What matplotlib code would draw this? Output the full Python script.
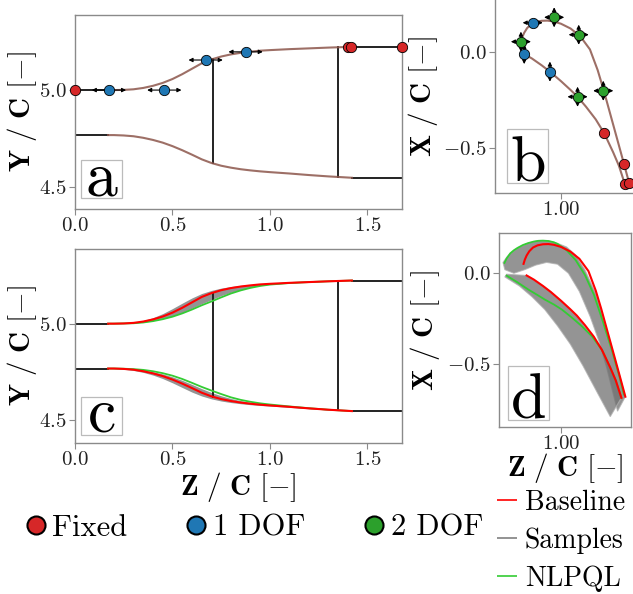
import matplotlib
matplotlib.use("Agg")
import matplotlib.pyplot as plt
import numpy as np
from matplotlib.lines import Line2D
from matplotlib.patches import Rectangle, Polygon
from matplotlib.ticker import FuncFormatter

plt.rcParams['font.family'] = 'serif'
plt.rcParams['font.serif'] = ['cmr10']
plt.rcParams['mathtext.fontset'] = 'cm'
plt.rcParams['axes.formatter.use_mathtext'] = True
plt.rcParams['axes.unicode_minus'] = False

# ---- meridional channel (Z / C vs Y / C) ----
inlet_z = [0.0, 0.17]
outlet_z = [1.42, 1.68]
upper_inlet_y = 5.0
lower_inlet_y = 4.768
upper_outlet_y = 5.223
lower_outlet_y = 4.548
blade_edges_z = [0.708, 1.35]

wall_z = [0.17, 0.20, 0.25, 0.30, 0.35, 0.40, 0.45, 0.50, 0.55, 0.60, 0.65,
          0.70, 0.75, 0.80, 0.85, 0.90, 0.95, 1.00, 1.10, 1.20, 1.30, 1.42]
base_upper = [5.000, 5.000, 5.001, 5.004, 5.011, 5.022, 5.037, 5.057, 5.082, 5.110, 5.138,
              5.158, 5.173, 5.184, 5.192, 5.198, 5.203, 5.206, 5.211, 5.215, 5.219, 5.223]
base_lower = [4.768, 4.768, 4.766, 4.762, 4.754, 4.743, 4.729, 4.711, 4.690, 4.667, 4.643,
              4.624, 4.610, 4.600, 4.592, 4.586, 4.581, 4.577, 4.570, 4.562, 4.555, 4.548]
nlpql_upper = [5.000, 5.000, 5.001, 5.002, 5.006, 5.013, 5.023, 5.036, 5.053, 5.073, 5.095,
               5.115, 5.136, 5.156, 5.172, 5.185, 5.195, 5.202, 5.210, 5.215, 5.219, 5.223]
nlpql_lower = [4.768, 4.768, 4.767, 4.765, 4.761, 4.754, 4.744, 4.731, 4.714, 4.694, 4.673,
               4.654, 4.636, 4.619, 4.606, 4.596, 4.588, 4.582, 4.572, 4.563, 4.555, 4.548]
samples_upper_hi = [5.000, 5.000, 5.002, 5.007, 5.016, 5.031, 5.052, 5.078, 5.106, 5.133, 5.156,
                    5.172, 5.184, 5.192, 5.198, 5.202, 5.206, 5.208, 5.212, 5.216, 5.219, 5.223]
samples_upper_lo = [5.000, 5.000, 5.001, 5.003, 5.007, 5.015, 5.026, 5.040, 5.058, 5.080, 5.103,
                    5.124, 5.145, 5.162, 5.176, 5.188, 5.197, 5.203, 5.210, 5.215, 5.219, 5.223]
samples_lower_hi = [4.768, 4.768, 4.767, 4.764, 4.759, 4.751, 4.740, 4.725, 4.707, 4.686, 4.664,
                    4.644, 4.627, 4.613, 4.602, 4.593, 4.586, 4.580, 4.571, 4.562, 4.555, 4.548]
samples_lower_lo = [4.768, 4.767, 4.764, 4.758, 4.748, 4.734, 4.716, 4.694, 4.670, 4.646, 4.626,
                    4.611, 4.600, 4.592, 4.586, 4.581, 4.577, 4.574, 4.567, 4.560, 4.554, 4.548]

# control points on the shroud
fixed_a_z = [0.0, 1.402, 1.414, 1.675]
fixed_a_y = [5.0, 5.223, 5.223, 5.223]
dof1_a_z = [0.174, 0.458, 0.67, 0.875]
dof1_a_y = [5.0, 5.0, 5.155, 5.197]

# ---- blade profile (Z / C vs X / C) ----
suction_z = [0.793, 0.80, 0.81, 0.825, 0.845, 0.87, 0.90, 0.93, 0.96, 1.00, 1.05, 1.10,
             1.15, 1.19, 1.22, 1.26, 1.30, 1.326, 1.353]
suction_x = [0.052, 0.075, 0.098, 0.122, 0.142, 0.154, 0.160, 0.161, 0.157, 0.145, 0.120, 0.080,
             0.012, -0.095, -0.195, -0.340, -0.485, -0.580, -0.680]
pressure_z = [0.810, 0.85, 0.90, 0.943, 1.00, 1.05, 1.086, 1.13, 1.18, 1.224, 1.27, 1.30, 1.331]
pressure_x = [-0.012, -0.035, -0.070, -0.103, -0.152, -0.198, -0.233, -0.285, -0.350, -0.422,
              -0.520, -0.590, -0.686]

fixed_b_z = [1.224, 1.326, 1.331, 1.353]
fixed_b_x = [-0.422, -0.582, -0.686, -0.680]
dof1_b_z = [0.854, 0.810, 0.943]
dof1_b_x = [0.150, -0.012, -0.103]
dof1_b_dir = ['h', 'v', 'v']
dof2_b_z = [0.793, 0.965, 1.092, 1.219, 1.086]
dof2_b_x = [0.052, 0.178, 0.088, -0.202, -0.233]

nlpql_suction_z = [0.688, 0.70, 0.72, 0.74, 0.76, 0.79, 0.82, 0.85, 0.875, 0.90, 0.93, 0.96, 0.98,
                   1.03, 1.08, 1.13, 1.18, 1.23, 1.28, 1.32, 1.345]
nlpql_suction_x = [0.057, 0.082, 0.110, 0.127, 0.140, 0.156, 0.167, 0.175, 0.179, 0.180, 0.178,
                   0.171, 0.162, 0.127, 0.072, -0.008, -0.118, -0.268, -0.428, -0.568, -0.668]
nlpql_pressure_z = [0.70, 0.76, 0.82, 0.87, 0.912, 0.96, 1.004, 1.06, 1.114, 1.169, 1.224,
                    1.27, 1.30, 1.331]
nlpql_pressure_x = [-0.013, -0.050, -0.090, -0.120, -0.146, -0.172, -0.200, -0.245, -0.292,
                    -0.347, -0.422, -0.520, -0.590, -0.686]

# envelopes of the sampled profiles
samp_suc_outer_z = [0.68, 0.70, 0.72, 0.76, 0.82, 0.875, 0.93, 0.98, 1.03, 1.08, 1.13, 1.19,
                    1.22, 1.26, 1.30, 1.326, 1.353]
samp_suc_outer_x = [0.060, 0.088, 0.110, 0.140, 0.167, 0.180, 0.178, 0.165, 0.145, 0.100, 0.020,
                    -0.110, -0.200, -0.344, -0.488, -0.582, -0.680]
samp_suc_inner_z = [1.31, 1.28, 1.25, 1.21, 1.16, 1.10, 1.04, 0.98, 0.92, 0.86, 0.80, 0.74, 0.69]
samp_suc_inner_x = [-0.760, -0.640, -0.520, -0.380, -0.240, -0.100, 0.000, 0.050, 0.060, 0.045,
                    0.020, 0.000, 0.020]
samp_pre_upper_z = [0.70, 0.81, 0.90, 0.943, 1.00, 1.086, 1.15, 1.224, 1.27, 1.30, 1.331]
samp_pre_upper_x = [-0.005, -0.012, -0.070, -0.103, -0.152, -0.233, -0.320, -0.422, -0.520,
                    -0.590, -0.686]
samp_pre_lower_z = [1.27, 1.20, 1.12, 1.05, 0.98, 0.91, 0.84, 0.77, 0.69]
samp_pre_lower_x = [-0.790, -0.660, -0.510, -0.390, -0.290, -0.200, -0.130, -0.070, -0.020]

point_labels = ['Fixed', '1 DOF', '2 DOF']
line_labels = ['Baseline', 'Samples', 'NLPQL']

RED = '#d62728'
BLUE = '#1f77b4'
GREEN = '#2ca02c'
BROWN = '#8c564b'
SPINE = '#8a8a8a'
SAMPLE_GREY = '#707070'
LINE_COLORS = ['#ff0000', '#808080', '#33cc33']

W, H = 633, 594
fig = plt.figure(figsize=(W / 100, H / 100), dpi=100)


def add_axes_px(left, top, right, bottom):
    return fig.add_axes([left / W, 1 - bottom / H, (right - left) / W, (bottom - top) / H])


def style_axes(ax, xticks, yticks, xfmt, yfmt):
    for s in ax.spines.values():
        s.set_color(SPINE)
        s.set_linewidth(1.0)
    ax.set_xticks(xticks)
    ax.set_yticks(yticks)
    ax.xaxis.set_major_formatter(FuncFormatter(lambda v, p: '$' + xfmt % v + '$'))
    ax.yaxis.set_major_formatter(FuncFormatter(lambda v, p: '$' + yfmt % v + '$'))
    ax.tick_params(direction='out', length=4, width=0.8, color=SPINE,
                   labelsize=15, labelcolor='#222222', pad=2)


def panel_tag(letter, left, top, right, bottom, base_off):
    fig.add_artist(Rectangle((left / W, 1 - bottom / H), (right - left) / W, (bottom - top) / H,
                             transform=fig.transFigure, fill=False, ec='#bbbbbb', lw=0.9))
    fig.text((left + right) / 2 / W, 1 - (bottom - base_off) / H, letter,
             fontsize=46, ha='center', va='baseline')


def arrows(ax, zs, ys, dirs, length):
    for z, y, d in zip(zs, ys, dirs):
        vecs = []
        if 'h' in d:
            vecs += [(length, 0), (-length, 0)]
        if 'v' in d:
            vecs += [(0, length), (0, -length)]
        for dx, dy in vecs:
            ax.annotate('', xy=(z + dx, y + dy), xytext=(z, y),
                        arrowprops=dict(arrowstyle='-|>', color='k', lw=0.8,
                                        mutation_scale=6, shrinkA=0, shrinkB=0),
                        zorder=4)


def channel_walls(ax):
    ax.plot(inlet_z, [upper_inlet_y] * 2, color='#222222', lw=1.4)
    ax.plot(inlet_z, [lower_inlet_y] * 2, color='#222222', lw=1.4)
    ax.plot(outlet_z, [upper_outlet_y] * 2, color='#222222', lw=1.4)
    ax.plot(outlet_z, [lower_outlet_y] * 2, color='#222222', lw=1.4)
    for z in blade_edges_z:
        ax.plot([z, z], [np.interp(z, wall_z, base_lower), np.interp(z, wall_z, base_upper)],
                color='#222222', lw=1.4)


# ---- a: parametrised channel ----
ax_a = add_axes_px(75, 15, 402, 209)
channel_walls(ax_a)
ax_a.plot(wall_z, base_upper, color=BROWN, lw=1.5, alpha=0.85)
ax_a.plot(wall_z, base_lower, color=BROWN, lw=1.5, alpha=0.85)
arrows(ax_a, dof1_a_z, dof1_a_y, ['h'] * len(dof1_a_z), 0.088)
ax_a.scatter(fixed_a_z, fixed_a_y, s=55, c=RED, edgecolors='k', linewidths=0.6, zorder=5, clip_on=False)
ax_a.scatter(dof1_a_z, dof1_a_y, s=55, c=BLUE, edgecolors='k', linewidths=0.6, zorder=5)
ax_a.set_xlim(0, 1.677)
ax_a.set_ylim(4.387, 5.387)
style_axes(ax_a, [0, 0.5, 1.0, 1.5], [4.5, 5.0], '%.1f', '%.1f')

# ---- b: parametrised blade profile ----
ax_b = add_axes_px(495, -2, 640, 193)
ax_b.plot(suction_z, suction_x, color=BROWN, lw=1.5, alpha=0.85)
ax_b.plot(pressure_z, pressure_x, color=BROWN, lw=1.5, alpha=0.85)
arrows(ax_b, dof1_b_z, dof1_b_x, dof1_b_dir, 0.052)
arrows(ax_b, dof2_b_z, dof2_b_x, ['hv'] * len(dof2_b_z), 0.052)
ax_b.scatter(fixed_b_z, fixed_b_x, s=55, c=RED, edgecolors='k', linewidths=0.6, zorder=5)
ax_b.scatter(dof1_b_z, dof1_b_x, s=55, c=BLUE, edgecolors='k', linewidths=0.6, zorder=5)
ax_b.scatter(dof2_b_z, dof2_b_x, s=55, c=GREEN, edgecolors='k', linewidths=0.6, zorder=5)
ax_b.set_xlim(0.659, 1.409)
ax_b.set_ylim(-0.731, 0.278)
style_axes(ax_b, [1.0], [-0.5, 0.0], '%.2f', '%.1f')

# ---- c: channel samples ----
ax_c = add_axes_px(75, 249, 402, 443)
channel_walls(ax_c)
ax_c.fill_between(wall_z, samples_upper_lo, samples_upper_hi, color=SAMPLE_GREY, alpha=0.75, lw=0)
ax_c.fill_between(wall_z, samples_lower_lo, samples_lower_hi, color=SAMPLE_GREY, alpha=0.75, lw=0)
ax_c.plot(wall_z, nlpql_upper, color='#33cc33', lw=1.3)
ax_c.plot(wall_z, nlpql_lower, color='#33cc33', lw=1.3)
ax_c.plot(wall_z, base_upper, color='#ff0000', lw=1.5)
ax_c.plot(wall_z, base_lower, color='#ff0000', lw=1.5)
ax_c.set_xlim(0, 1.677)
ax_c.set_ylim(4.383, 5.386)
style_axes(ax_c, [0, 0.5, 1.0, 1.5], [4.5, 5.0], '%.1f', '%.1f')

# ---- d: blade samples ----
ax_d = add_axes_px(499, 233, 631, 427)
suc_band = list(zip(samp_suc_outer_z, samp_suc_outer_x)) + list(zip(samp_suc_inner_z, samp_suc_inner_x))
pre_band = list(zip(samp_pre_upper_z, samp_pre_upper_x)) + list(zip(samp_pre_lower_z, samp_pre_lower_x))
for band in (suc_band, pre_band):
    ax_d.add_patch(Polygon(band, closed=True, fc=SAMPLE_GREY, ec='#b0b0b0', alpha=0.75, lw=0.8))
ax_d.plot(nlpql_suction_z, nlpql_suction_x, color='#33cc33', lw=1.3)
ax_d.plot(nlpql_pressure_z, nlpql_pressure_x, color='#33cc33', lw=1.3)
ax_d.plot(suction_z, suction_x, color='#ff0000', lw=1.5)
ax_d.plot(pressure_z, pressure_x, color='#ff0000', lw=1.5)
ax_d.set_xlim(0.658, 1.384)
ax_d.set_ylim(-0.847, 0.222)
style_axes(ax_d, [1.0], [-0.5, 0.0], '%.2f', '%.1f')

# axis labels
ylab = r'$\mathbf{Y}\ /\ \mathbf{C}\ [-]$'
xlab = r'$\mathbf{X}\ /\ \mathbf{C}\ [-]$'
zlab = r'$\mathbf{Z}\ /\ \mathbf{C}\ [-]$'
fig.text(22 / W, 1 - 112 / H, ylab, rotation=90, ha='center', va='center', fontsize=21)
fig.text(22 / W, 1 - 346 / H, ylab, rotation=90, ha='center', va='center', fontsize=21)
fig.text(423 / W, 1 - 97 / H, xlab, rotation=90, ha='center', va='center', fontsize=21)
fig.text(425 / W, 1 - 331 / H, xlab, rotation=90, ha='center', va='center', fontsize=21)
fig.text(238 / W, 1 - 487 / H, zlab, ha='center', va='center', fontsize=21)
fig.text(565 / W, 1 - 468 / H, zlab, ha='center', va='center', fontsize=21)

panel_tag('a', 80.5, 160, 121.7, 198.3, 3)
panel_tag('b', 507.3, 129.3, 548.3, 183.3, 1.5)
panel_tag('c', 81, 396.7, 122.3, 435, 3)
panel_tag('d', 508.3, 365.7, 549.3, 420, 1.5)

# legend for the control point types
pt_handles = [Line2D([], [], ls='', marker='o', ms=13, mfc=c, mec='k', mew=1.5)
              for c in (RED, BLUE, GREEN)]
fig.legend(pt_handles, point_labels, loc='center left',
           bbox_to_anchor=(28 / W, 1 - 528 / H), ncol=3, frameon=False, fontsize=22,
           handlelength=0.5, handletextpad=0.3, columnspacing=2.0,
           borderaxespad=0, borderpad=0)

# key for the curve types: short coloured strokes with a label each
for i, (lab, col) in enumerate(zip(line_labels, LINE_COLORS)):
    yc = 500 + 38 * i
    y = 1 - yc / H
    fig.add_artist(Line2D([497 / W, 517 / W], [y, y], transform=fig.transFigure,
                          color=col, lw=1.2, solid_capstyle='butt'))
    fig.text(525 / W, y, lab, fontsize=20, ha='left', va='center_baseline')

fig.savefig('out.png', dpi=100)
